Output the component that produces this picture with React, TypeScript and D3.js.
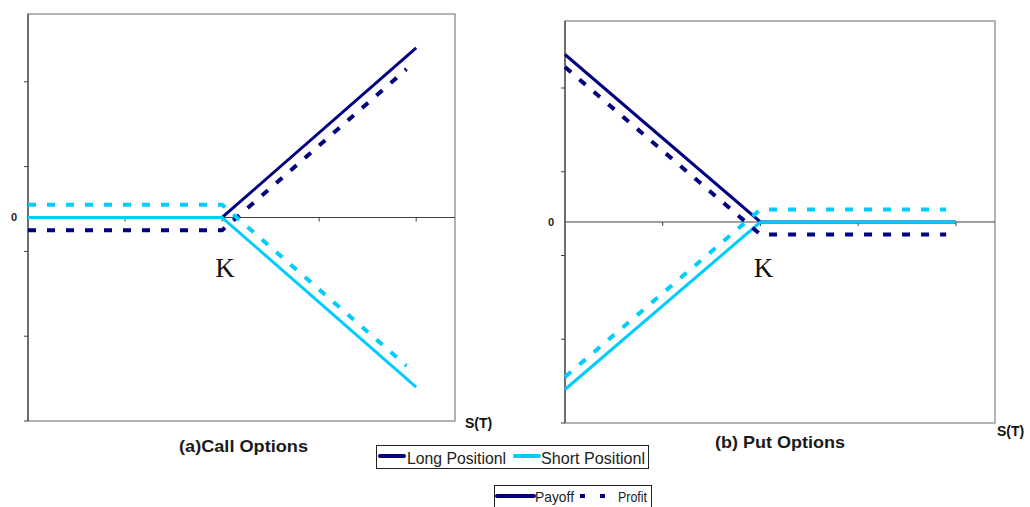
import React from "react";
import * as d3 from "d3";

// S(T) positions of the plotted points
const sPayoff = [0, 20, 40];
const sProfit = [0, 20, 39];

// (a) call options
const callLongPayoff = [0, 0, 10];
const callLongProfit = [-0.75, -0.75, 8.75];
const callShortPayoff = [0, 0, -10];
const callShortProfit = [0.75, 0.75, -8.75];

// (b) put options
const putLongPayoff = [10, 0, 0];
const putLongProfit = [9.25, -0.75, -0.75];
const putShortPayoff = [-10, 0, 0];
const putShortProfit = [-9.25, 0.75, 0.75];

const yTicks = [-12, -7, -2, 3, 8];
const xTicks = [10, 20, 30, 40];
const strike = 20;

const NAVY = "#000080";
const CYAN = "#00CCFF";
const FONT = "Arial, 'Liberation Sans', sans-serif";

interface PanelProps {
  left: number;
  top: number;
  right: number;
  bottom: number;
  longPayoff: number[];
  longProfit: number[];
  shortPayoff: number[];
  shortProfit: number[];
  title: string;
  titleX: number;
  titleY: number;
  titleLen: number;
  sLabelX: number;
  sLabelY: number;
}

const Panel: React.FC<PanelProps> = (p) => {
  const x = d3.scaleLinear().domain([0, 44]).range([p.left, p.right]);
  const y = d3.scaleLinear().domain([-12, 12]).range([p.bottom, p.top]);

  const line = (xs: number[], ys: number[]) =>
    d3.line<number>()
      .x((_, i) => x(xs[i]))
      .y((d) => y(d))(ys) || "";

  return (
    <g>
      {/* plot frame */}
      <rect x={p.left} y={p.top} width={p.right - p.left} height={p.bottom - p.top}
        fill="none" stroke="#9a9a9a" strokeWidth={1.5} />
      {/* y axis */}
      <line x1={p.left} x2={p.left} y1={p.top} y2={p.bottom} stroke="#404040" strokeWidth={1.2} />
      {yTicks.map((t) => (
        <line key={t} x1={p.left - 4} x2={p.left} y1={y(t)} y2={y(t)} stroke="#404040" strokeWidth={1} />
      ))}
      <text x={p.left - 11} y={y(0)} dy="0.35em" textAnchor="end" fontFamily={FONT}
        fontWeight="bold" fontSize={11} fill="#222">0</text>
      {/* x axis at zero */}
      <line x1={p.left} x2={p.right} y1={y(0)} y2={y(0)} stroke="#404040" strokeWidth={1.2} />
      {xTicks.map((t) => (
        <line key={t} x1={x(t)} x2={x(t)} y1={y(0)} y2={y(0) + 4} stroke="#404040" strokeWidth={1} />
      ))}

      {/* payoffs */}
      <path d={line(sPayoff, p.longPayoff)} fill="none" stroke={NAVY} strokeWidth={3} />
      <path d={line(sPayoff, p.shortPayoff)} fill="none" stroke={CYAN} strokeWidth={3} />
      {/* profits */}
      <path d={line(sProfit, p.longProfit)} fill="none" stroke={NAVY} strokeWidth={4}
        strokeDasharray="8,11" />
      <path d={line(sProfit, p.shortProfit)} fill="none" stroke={CYAN} strokeWidth={4}
        strokeDasharray="8,11" />

      <text x={x(strike) + 3} y={277} textAnchor="middle" fontFamily="'Times New Roman', 'Liberation Serif', serif"
        fontSize={27} fill="#111">K</text>
      <text x={p.sLabelX} y={p.sLabelY} fontFamily={FONT} fontWeight="bold" fontSize={14} fill="#111">S(T)</text>
      <text x={p.titleX} y={p.titleY} textAnchor="middle" fontFamily={FONT} fontWeight="bold"
        fontSize={17} fill="#1a1a1a" textLength={p.titleLen} lengthAdjust="spacingAndGlyphs">{p.title}</text>
    </g>
  );
};

export default function App() {
  return (
    <svg width={1030} height={507} style={{ display: "block", position: "absolute", left: 0, top: 0, background: "#fff" }}>
      <rect width={1030} height={507} fill="#fff" />
      <Panel left={28} top={14} right={455} bottom={421}
        longPayoff={callLongPayoff} longProfit={callLongProfit}
        shortPayoff={callShortPayoff} shortProfit={callShortProfit}
        title="(a)Call Options" titleX={243.5} titleY={452} titleLen={129} sLabelX={465} sLabelY={428} />
      <Panel left={565} top={21} right={995} bottom={423}
        longPayoff={putLongPayoff} longProfit={putLongProfit}
        shortPayoff={putShortPayoff} shortProfit={putShortProfit}
        title="(b) Put Options" titleX={780} titleY={448} titleLen={130} sLabelX={997} sLabelY={436} />

      {/* legend: position */}
      <rect x={376.5} y={445.5} width={272} height={23} fill="#fff" stroke="#222" strokeWidth={1} />
      <line x1={380} x2={404} y1={456} y2={456} stroke={NAVY} strokeWidth={4} strokeLinecap="round" />
      <text x={407} y={464} fontFamily={FONT} fontSize={16} fill="#222" textLength={99}
        lengthAdjust="spacingAndGlyphs">Long Positionl</text>
      <line x1={515} x2={539} y1={456} y2={456} stroke={CYAN} strokeWidth={4} strokeLinecap="round" />
      <text x={541} y={464} fontFamily={FONT} fontSize={16} fill="#222" textLength={104}
        lengthAdjust="spacingAndGlyphs">Short Positionl</text>

      {/* legend: payoff / profit */}
      <rect x={494.5} y={485.5} width={157} height={30} fill="#fff" stroke="#222" strokeWidth={1} />
      <line x1={497} x2={534} y1={496} y2={496} stroke={NAVY} strokeWidth={4} strokeLinecap="round" />
      <text x={535} y={502} fontFamily={FONT} fontSize={15} fill="#222" textLength={39}
        lengthAdjust="spacingAndGlyphs">Payoff</text>
      <line x1={580} x2={606} y1={496} y2={496} stroke={NAVY} strokeWidth={4} strokeDasharray="5,15" />
      <text x={618} y={502} fontFamily={FONT} fontSize={15} fill="#222" textLength={29}
        lengthAdjust="spacingAndGlyphs">Profit</text>
    </svg>
  );
}
